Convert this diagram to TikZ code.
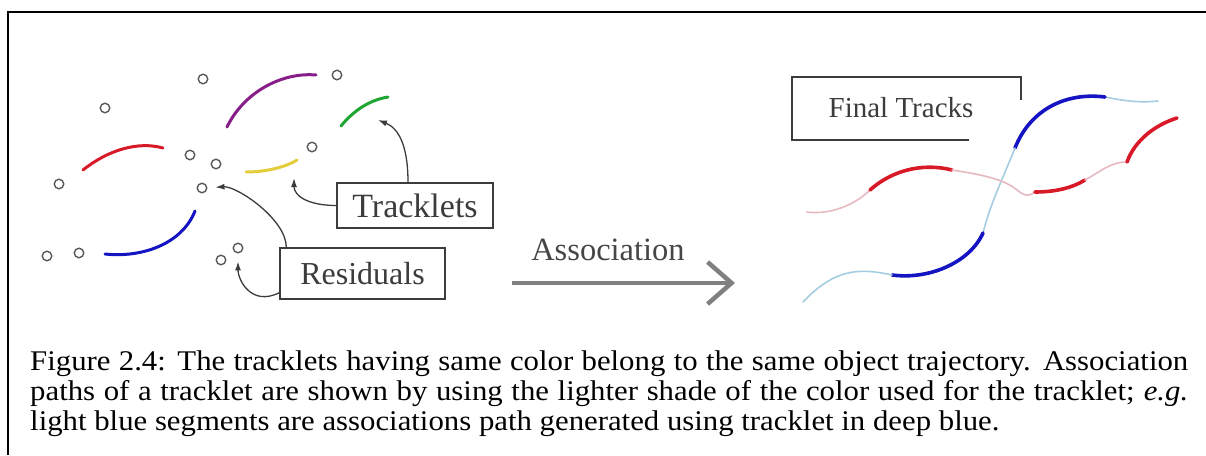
\documentclass[tikz,border=0pt]{standalone}
\usepackage{fontspec}
\setmainfont{Liberation Serif}
\newfontfamily\capfont[FakeStretch=1.08]{Liberation Serif}
\usetikzlibrary{arrows.meta}

\definecolor{trkred}{RGB}{215,25,40}
\definecolor{trkpurple}{RGB}{135,30,135}
\definecolor{trkgreen}{RGB}{30,165,50}
\definecolor{trkyellow}{RGB}{228,205,60}
\definecolor{trkblue}{RGB}{20,20,195}
\definecolor{lightblue}{RGB}{165,205,225}
\definecolor{lightred}{RGB}{230,185,192}
\definecolor{inkgray}{RGB}{60,60,60}

\tikzset{
    residual/.style={circle, draw=inkgray!85, line width=1.4pt, minimum size=9.5pt, inner sep=0pt},
    tracklet/.style={line width=3pt, line cap=round},
    deeptrack/.style={line width=3.6pt, line cap=round},
    assocpath/.style={line width=1.6pt, line cap=round},
    labelbox/.style={draw=inkgray, line width=1.4pt, text=inkgray, inner sep=0pt},
    pointer/.style={-{Latex[length=9pt,width=6pt]}, line width=1.3pt, draw=inkgray, shorten >=4pt},
    captionline/.style={anchor=base west, inner sep=0pt, font=\capfont\fontsize{28.5}{30}\selectfont},
}

\begin{document}
\begin{tikzpicture}[x=1pt, y=-1pt]
    \useasboundingbox (0,0) rectangle (1206,455);

    % Frame (top and left edges)
    \draw[line width=1.8pt] (8,455) -- (8,12) -- (1206,12);

    % Residual detections
    \foreach \name/\px/\py in {r1/203/79, r2/105/108, r3/337/75, r4/190/155, r5/216/164, r6/312/147,
                               r7/59/184, r8/202/188, r9/47/256, r10/79/253, r11/221/260, r12/238/248} {
        \node[residual] (\name) at (\px,\py) {};
    }

    % Tracklets
    \draw[tracklet, trkred] (83,170) .. controls (108,150) and (138,141) .. (163,148);
    \draw[tracklet, trkpurple] (227,127) .. controls (244,92) and (282,72) .. (316,75);
    \draw[tracklet, trkgreen] (341,126) .. controls (354,110) and (370,100) .. (388,97);
    \draw[tracklet, trkyellow] (246,172) .. controls (264,172) and (284,168) .. (297,160);
    \draw[tracklet, trkblue] (105,254) .. controls (142,258) and (182,244) .. (195,211);

    % Labels of the left panel
    \node[labelbox, minimum width=156pt, minimum height=45pt, font=\fontsize{34}{34}\selectfont] (tracklets) at (415,205.5) {Tracklets};
    \node[labelbox, minimum width=165pt, minimum height=51pt, font=\fontsize{32}{32}\selectfont] (residuals) at (362.5,273.5) {Residuals};

    % Arrow targets next to the tracklets
    \coordinate (greentip) at (378,120);
    \coordinate (yellowtip) at (294,178);

    % Pointers from the labels
    \draw[pointer, shorten >=0pt] ([xshift=-7pt]tracklets.north) .. controls +(0,-38) and +(20,8) .. (greentip);
    \draw[pointer, shorten >=0pt] (tracklets.west) .. controls +(-28,0) and +(0,18) .. (yellowtip);
    \draw[pointer, shorten >=8pt] ([xshift=7pt]residuals.north west) .. controls +(0,-28) and +(35,-2) .. (r8);
    \draw[pointer, shorten >=8pt] ([yshift=7pt]residuals.south west) .. controls +(-28,14) and +(0,32) .. (r12);

    % Association arrow
    \coordinate (assocstart) at (512,283);
    \coordinate (assocend) at (735,283);
    \draw[line width=4.5pt, gray, -{Straight Barb[length=24pt, width=42pt]}] (assocstart) -- (assocend);
    \node[anchor=base, text=inkgray!95, font=\fontsize{32.5}{32.5}\selectfont] (assoc) at (608,260) {Association};

    % Final tracks label (box partly hidden by the tracks)
    \node[text=inkgray, font=\fontsize{29}{29}\selectfont, anchor=base] (final) at (901,117) {Final Tracks};
    \draw[line width=1.8pt, inkgray] (1021,100) -- (1021,77) -- (792,77) -- (792,140) -- (969,140);

    % Blue trajectory
    \draw[assocpath, lightblue] (1105,97) .. controls (1125,101) and (1140,103) .. (1158,101);
    \draw[deeptrack, trkblue] (1015,148) .. controls (1030,110) and (1065,92) .. (1105,97);
    \draw[assocpath, lightblue] (1015,148) .. controls (1000,185) and (990,205) .. (983,233);
    \draw[deeptrack, trkblue] (983,233) .. controls (970,262) and (930,280) .. (892,275);
    \draw[assocpath, lightblue] (892,275) .. controls (860,268) and (835,268) .. (803,302);

    % Red trajectory
    \draw[assocpath, lightred] (807,212) .. controls (830,215) and (855,205) .. (870,190);
    \draw[deeptrack, trkred] (870,190) .. controls (890,172) and (920,162) .. (952,170);
    \draw[assocpath, lightred] (952,170) .. controls (985,175) and (1005,180) .. (1017,190)
                                         .. controls (1025,197) and (1030,196) .. (1035,192);
    \draw[deeptrack, trkred] (1035,192) .. controls (1055,192) and (1072,188) .. (1085,180);
    \draw[assocpath, lightred] (1085,180) .. controls (1100,172) and (1110,162) .. (1127,162);
    \draw[deeptrack, trkred] (1127,162) .. controls (1135,140) and (1155,125) .. (1177,118);

    % Caption, one node per printed line
    \node[captionline] (cap1) at (30,370)
        {\hbox to 1158pt{Figure 2.4: The tracklets having same color belong to the same object trajectory. Association}};
    \node[captionline] (cap2) at (30,400)
        {\hbox to 1158pt{paths of a tracklet are shown by using the lighter shade of the color used for the tracklet; \textit{e.g.}}};
    \node[captionline] (cap3) at (30,430)
        {light blue segments are associations path generated using tracklet in deep blue.};

\end{tikzpicture}
\end{document}
